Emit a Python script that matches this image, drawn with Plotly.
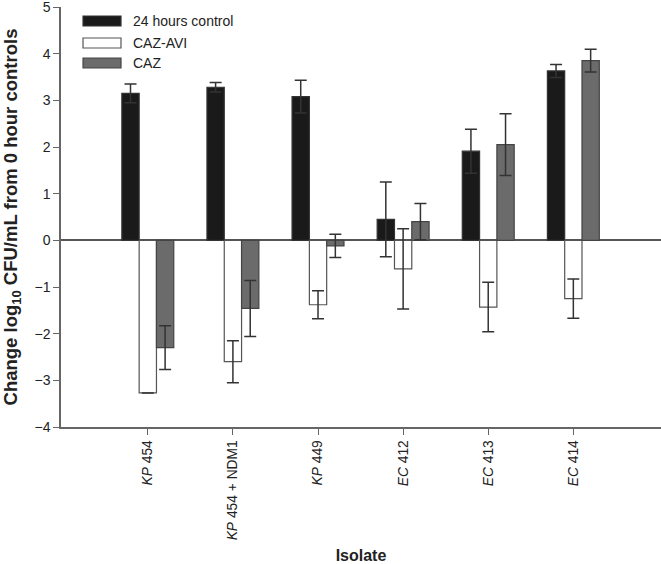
import plotly.graph_objects as go

isolates = ["<i>KP</i> 454", "<i>KP</i> 454 + NDM1", "<i>KP</i> 449",
            "<i>EC</i> 412", "<i>EC</i> 413", "<i>EC</i> 414"]
series_names = ["24 hours control", "CAZ-AVI", "CAZ"]
control_24h = [3.15, 3.28, 3.08, 0.45, 1.91, 3.63]
control_24h_err = [0.20, 0.10, 0.35, 0.80, 0.47, 0.14]
caz_avi = [-3.27, -2.60, -1.38, -0.61, -1.43, -1.25]
caz_avi_err = [0.0, 0.45, 0.30, 0.86, 0.53, 0.42]
caz = [-2.30, -1.46, -0.12, 0.40, 2.05, 3.85]
caz_err = [0.47, 0.60, 0.25, 0.39, 0.66, 0.245]
y_ticks = [-4, -3, -2, -1, 0, 1, 2, 3, 4, 5]

fills = ["#1a1a1a", "#ffffff", "#6b6b6b"]
outlines = ["#333333", "#555555", "#444444"]

xpos = list(range(len(isolates)))

def errbar(vals):
    return dict(type="data", array=vals, visible=True, color="#333333",
                thickness=1.5, width=6)

fig = go.Figure()
for name, vals, errs, fc, lc in zip(series_names, [control_24h, caz_avi, caz],
                                    [control_24h_err, caz_avi_err, caz_err],
                                    fills, outlines):
    fig.add_trace(go.Bar(name=name, x=xpos, y=vals, error_y=errbar(errs),
                         showlegend=False,
                         marker=dict(color=fc, line=dict(color=lc, width=1.2))))

# custom legend with wide swatches (paper coordinates)
plot_top, plot_bottom = 7, 427
plot_h = plot_bottom - plot_top
row_centers = [21, 43, 63]
for name, fc, lc, yc in zip(series_names, fills, outlines, row_centers):
    y0 = (plot_bottom - (yc + 5)) / plot_h
    y1 = (plot_bottom - (yc - 5)) / plot_h
    fig.add_shape(type="rect", xref="paper", yref="paper",
                  x0=0.0367, x1=0.1, y0=y0, y1=y1,
                  fillcolor=fc, line=dict(color=lc, width=1.2))
    fig.add_annotation(xref="paper", yref="paper", x=0.1167,
                       y=(plot_bottom - yc) / plot_h, text=name,
                       showarrow=False, xanchor="left", yanchor="middle",
                       font=dict(size=14, color="#222222"))

fig.update_layout(
    width=661, height=564,
    margin=dict(l=61, r=0, t=7, b=137),
    paper_bgcolor="white", plot_bgcolor="white",
    barmode="group", bargap=0.39, bargroupgap=0,
    font=dict(family="Liberation Sans, Arial, sans-serif", color="#222222", size=14),
    showlegend=False,
    xaxis=dict(range=[-1.02, 6.03], tickmode="array", tickvals=xpos, ticktext=isolates,
               tickangle=-90, ticks="outside", ticklen=6, tickcolor="#666666",
               tickfont=dict(size=13.8), automargin=False,
               showline=True, linecolor="#666666", linewidth=1.5,
               showgrid=False, zeroline=False,
               title=dict(text="<b>Isolate</b>", font=dict(size=16), standoff=18)),
    yaxis=dict(range=[-4, 5.0001], tickmode="array", tickvals=y_ticks,
               ticktext=[str(t).replace("-", "\u2212") for t in y_ticks],
               ticklabeloverflow="allow",
               ticks="outside", ticklen=6, tickcolor="#666666", automargin=False,
               showline=True, linecolor="#666666", linewidth=1.5,
               showgrid=False, zeroline=True, zerolinecolor="#555555", zerolinewidth=1.5,
               tickfont=dict(size=14),
               title=dict(text="<b>Change log<sub>10</sub> CFU/mL from 0 hour controls</b>",
                          font=dict(size=18.5), standoff=20)),
)

fig.write_html("out.html", config={"displayModeBar": False},
               post_script="document.body.style.margin='0';document.body.style.padding='0';")
